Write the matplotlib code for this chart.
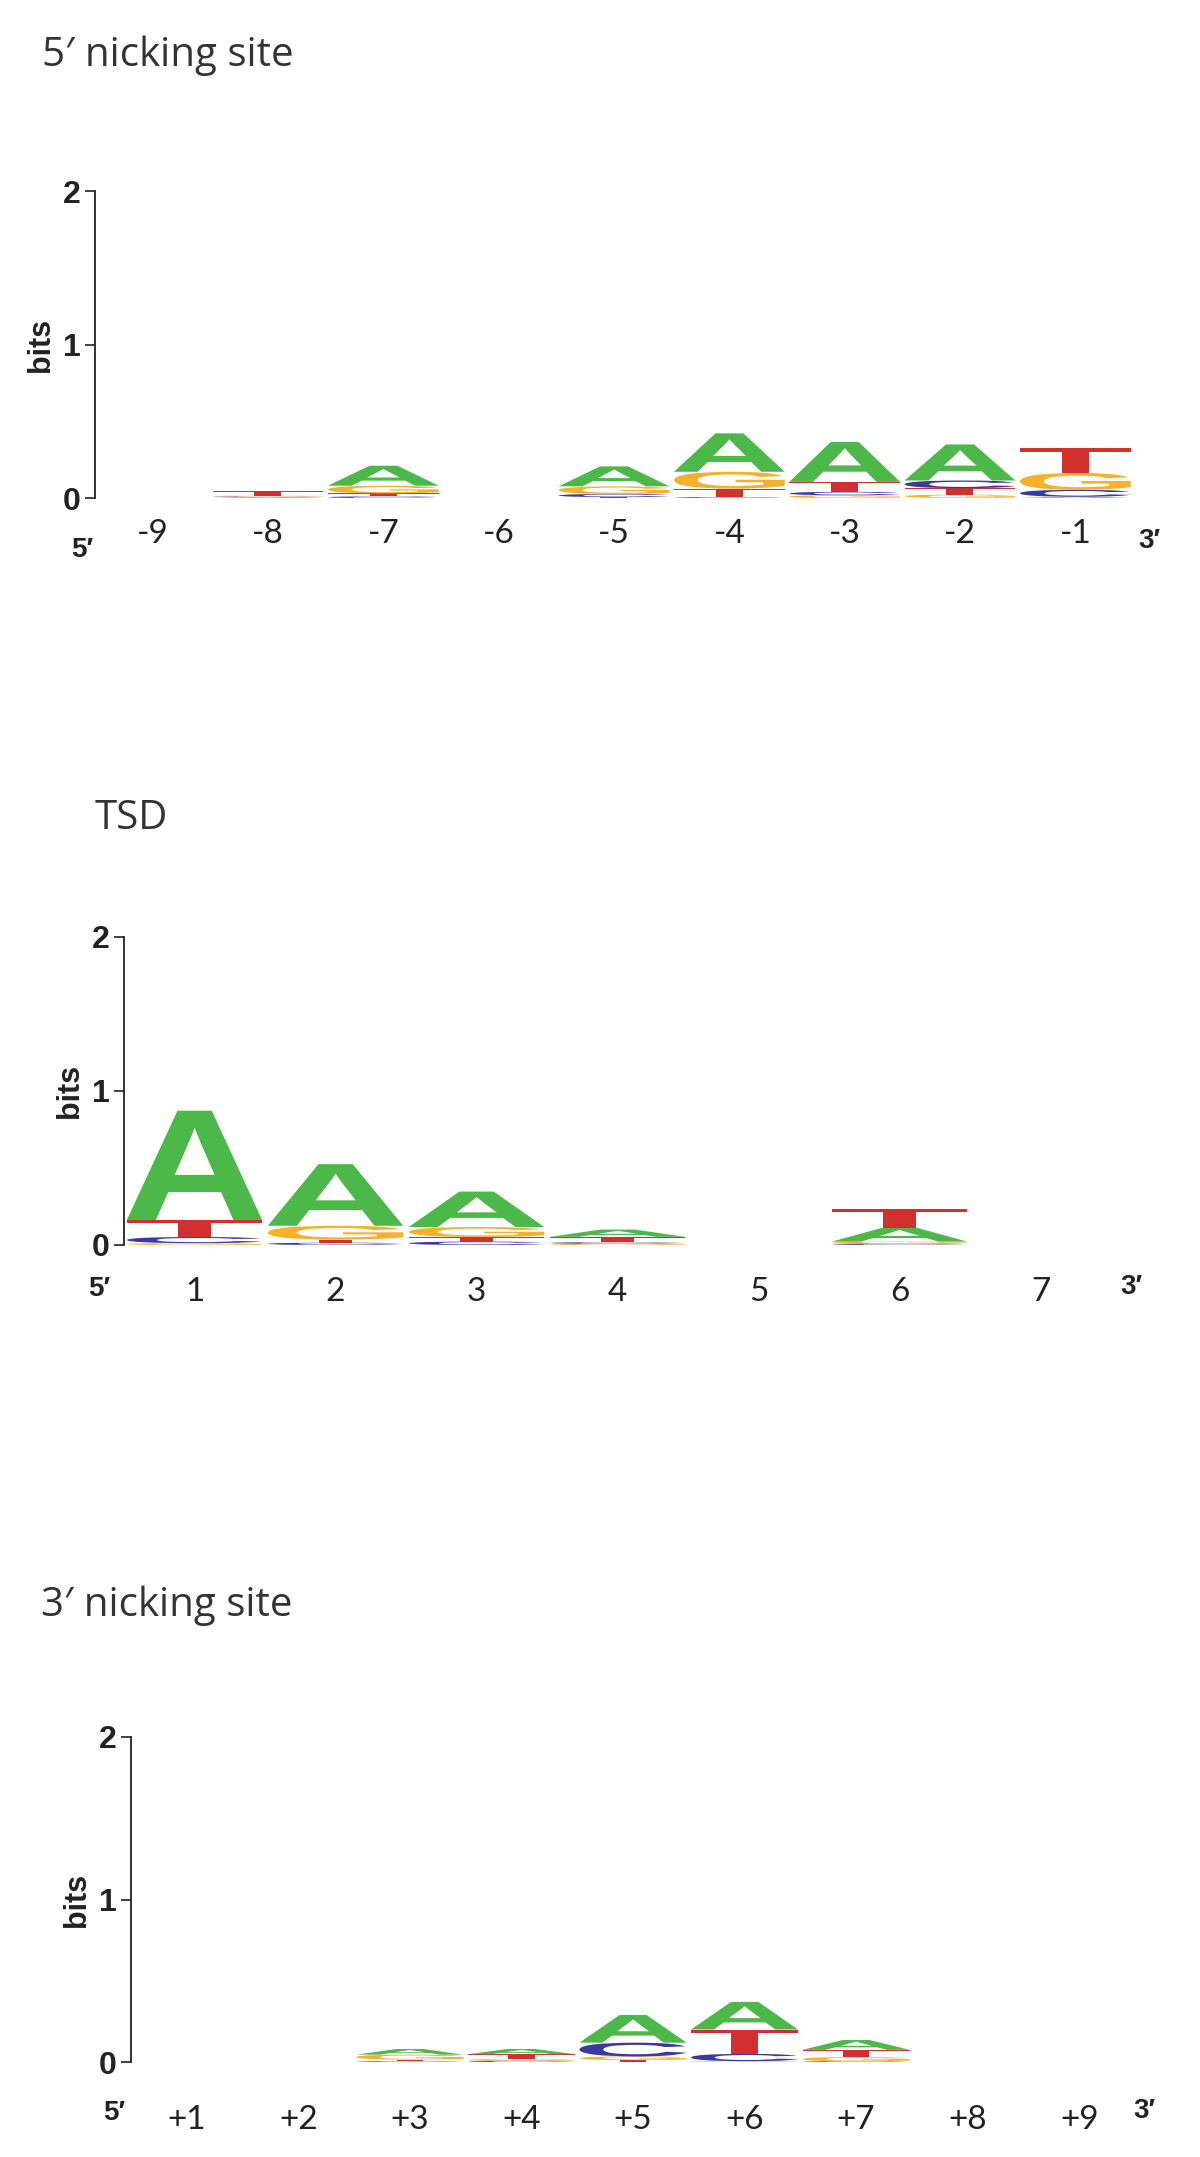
import numpy as np
import matplotlib
matplotlib.use('Agg')
import matplotlib.pyplot as plt
from matplotlib.textpath import TextPath
from matplotlib.patches import PathPatch
from matplotlib.font_manager import FontProperties
from matplotlib.transforms import Affine2D

# 5' nicking site, positions -9 .. -1 (letter heights in bits)
nick5_labels = ['-9', '-8', '-7', '-6', '-5', '-4', '-3', '-2', '-1']
nick5_A = [0, 0.005, 0.130, 0, 0.130, 0.250, 0.260, 0.235, 0.008]
nick5_C = [0, 0.005, 0.010, 0, 0.020, 0.006, 0.022, 0.050, 0.045]
nick5_G = [0, 0.005, 0.050, 0, 0.050, 0.110, 0.018, 0.022, 0.110]
nick5_T = [0, 0.030, 0.020, 0, 0.006, 0.055, 0.065, 0.042, 0.160]

# TSD, positions 1 .. 7
tsd_labels = ['1', '2', '3', '4', '5', '6', '7']
tsd_A = [0.710, 0.400, 0.230, 0.047, 0, 0.090, 0]
tsd_C = [0.040, 0.015, 0.022, 0.010, 0, 0.010, 0]
tsd_G = [0.012, 0.090, 0.065, 0.008, 0, 0.012, 0]
tsd_T = [0.110, 0.020, 0.030, 0.035, 0, 0.125, 0]

# 3' nicking site, positions +1 .. +9
nick3_labels = ['+1', '+2', '+3', '+4', '+5', '+6', '+7', '+8', '+9']
nick3_A = [0, 0, 0.035, 0.032, 0.170, 0.170, 0.060, 0, 0]
nick3_C = [0, 0, 0.005, 0.008, 0.085, 0.045, 0.005, 0, 0]
nick3_G = [0, 0, 0.030, 0.010, 0.022, 0.005, 0.025, 0, 0]
nick3_T = [0, 0, 0.010, 0.030, 0.012, 0.150, 0.045, 0, 0]

BASES = ['A', 'C', 'G', 'T']
COLORS = {'A': '#4cb849', 'C': '#3a3a9e', 'G': '#f7b02c', 'T': '#d22f2f'}
LOGO_FONT = FontProperties(family='Liberation Sans', weight='bold')
NARROW = ['Liberation Sans Narrow', 'Liberation Sans', 'DejaVu Sans']
THIN = ['Lato', 'DejaVu Sans']
TITLE_FONT = ['Open Sans', 'DejaVu Sans']

W, H = 1200, 2157
fig = plt.figure(figsize=(W / 100, H / 100), dpi=100)


def px(x, y):
    return x / W, 1 - y / H


def draw_letter(ax, ch, x, y, w, h):
    tp = TextPath((0, 0), ch, size=1, prop=LOGO_FONT)
    bb = tp.get_extents()
    tr = (Affine2D().translate(-bb.x0, -bb.y0)
          .scale(w / bb.width, h / bb.height)
          .translate(x - w / 2, y))
    ax.add_patch(PathPatch(tr.transform_path(tp), fc=COLORS[ch], ec='none', lw=0))


def draw_logo(ax, A, C, G, T, labels, xpad):
    heights = {'A': A, 'C': C, 'G': G, 'T': T}
    n = len(labels)
    for i in range(n):
        col = sorted([(heights[b][i], b) for b in BASES])
        y = 0
        for h, b in col:
            if h > 0:
                draw_letter(ax, b, i + 1, y, 0.96, h)
            y += h

    ax.set_xlim(0.5, n + 0.5)
    ax.set_ylim(0, 2)
    for s in ['top', 'right', 'bottom']:
        ax.spines[s].set_visible(False)
    ax.spines['left'].set_linewidth(1.3)
    ax.spines['left'].set_color('#222222')
    ax.set_yticks([0, 1, 2])
    ax.set_yticklabels(['0', '1', '2'], fontsize=23, fontweight='bold',
                       family=NARROW, color='#222222')
    ax.tick_params(axis='y', length=7, width=1.2, pad=3, color='#222222')
    ax.set_xticks(np.arange(1, n + 1))
    ax.set_xticklabels(labels, fontsize=24, family=THIN, fontweight='normal',
                       color='#222222')
    ax.tick_params(axis='x', length=0, pad=xpad)
    ax.set_ylabel('bits', fontsize=22, fontweight='bold', labelpad=5,
                  family=['Liberation Sans', 'DejaVu Sans'], color='#222222')


ax1 = fig.add_axes([95 / W, 1 - 498 / H, 1038 / W, 307 / H])
draw_logo(ax1, nick5_A, nick5_C, nick5_G, nick5_T, nick5_labels, 15)

ax2 = fig.add_axes([124 / W, 1 - 1245 / H, 987 / W, 308 / H])
draw_logo(ax2, tsd_A, tsd_C, tsd_G, tsd_T, tsd_labels, 23)

ax3 = fig.add_axes([131 / W, 1 - 2062 / H, 1004 / W, 325 / H])
draw_logo(ax3, nick3_A, nick3_C, nick3_G, nick3_T, nick3_labels, 31)

# panel titles
for txt, x, y in [('5\u2032 nicking site', 42, 66), ('TSD', 95, 829),
                  ('3\u2032 nicking site', 41, 1616)]:
    fig.text(*px(x, y), txt, fontsize=29, family=TITLE_FONT, color='#333333',
             ha='left', va='baseline')

# 5' / 3' end markers
for txt, x, y in [('5\u2032', 82, 550), ('3\u2032', 1149, 541),
                  ('5\u2032', 99, 1289), ('3\u2032', 1131, 1287),
                  ('5\u2032', 114, 2113), ('3\u2032', 1144, 2111)]:
    fig.text(*px(x, y), txt, fontsize=20, fontweight='bold', family=NARROW,
             color='#222222', ha='center', va='center')

fig.savefig('out.png', dpi=100, facecolor='white')
